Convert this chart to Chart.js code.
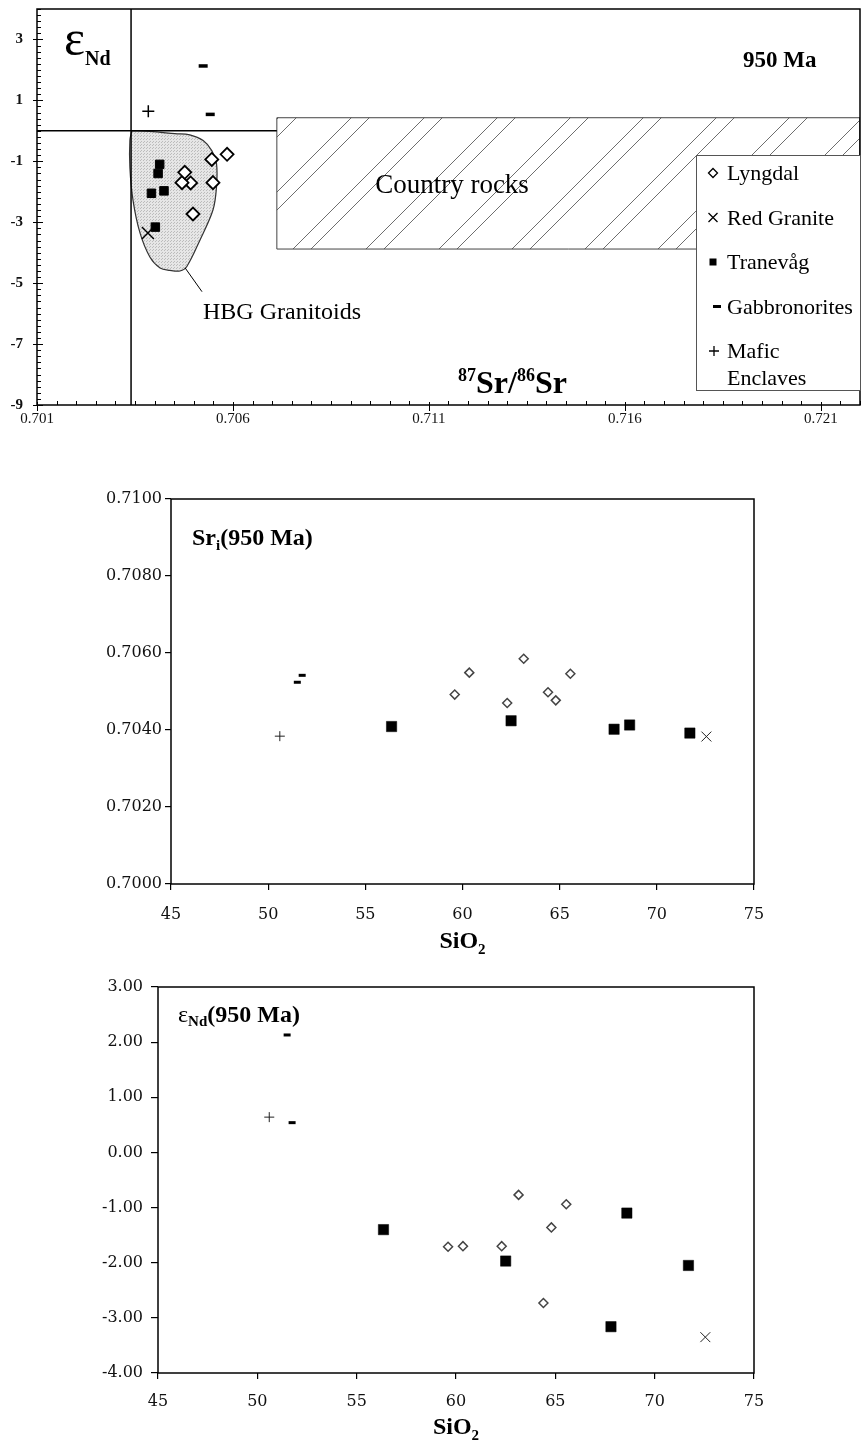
<!DOCTYPE html>
<html>
<head>
<meta charset="utf-8">
<title>HBG granitoids - Sr and Nd isotopes</title>
<script src="https://cdn.jsdelivr.net/npm/chart.js@4.4.1/dist/chart.umd.min.js"></script>
<style>
  html, body { margin: 0; padding: 0; background: #fff; }
  #page { position: relative; width: 861px; height: 1441px; overflow: hidden; }
  canvas { position: absolute; left: 0; }
</style>
</head>
<body>
<div id="page">
  <canvas id="srNdChart" width="861" height="440" style="top:0"></canvas>
  <canvas id="srSiChart" width="861" height="520" style="top:440px"></canvas>
  <canvas id="ndSiChart" width="861" height="481" style="top:960px"></canvas>
</div>
<script>
// samples (one entry per sample, same order in each array)
const lyngdalSiO2 = [59.6, 60.35, 62.3, 63.15, 64.4, 64.8, 65.55];
const lyngdalSr   = [0.70492, 0.70549, 0.70470, 0.70585, 0.70498, 0.70477, 0.70546];
const lyngdalNd   = [-1.71, -1.70, -1.70, -0.77, -2.73, -1.36, -0.94];

const tranevagSiO2 = [56.35, 62.5, 67.8, 68.6, 71.7];
const tranevagSr   = [0.70409, 0.70424, 0.70402, 0.70413, 0.70392];
const tranevagNd   = [-1.40, -1.97, -3.16, -1.10, -2.05];

const redGraniteSiO2 = [72.55];
const redGraniteSr   = [0.70383];
const redGraniteNd   = [-3.35];

const gabbroSiO2 = [51.5, 51.75];
const gabbroSr   = [0.70524, 0.70542];
const gabbroNd   = [2.13, 0.54];

const maficSiO2 = [50.6];
const maficSr   = [0.70384];
const maficNd   = [0.64];

// fields and reference lines of the isotope diagram ([Sr, eNd])
const hbgOutline = [
  [0.70342, 0.01], [0.70388, -0.02], [0.70452, -0.09], [0.70490, -0.13], [0.70524, -0.32],
  [0.70546, -0.65], [0.70558, -1.07], [0.70558, -1.85], [0.70549, -2.60], [0.70516, -3.58],
  [0.70482, -4.46], [0.70465, -4.60], [0.70439, -4.58], [0.70414, -4.50], [0.70388, -4.14],
  [0.70363, -3.36], [0.70345, -2.28], [0.70337, -1.20], [0.70337, -0.32], [0.70342, 0.01]
];
const hbgLeader = [[0.70478, -4.50], [0.70521, -5.28]];
const countryRocksBox = [[0.70712, 0.43], [0.722, 0.43], [0.722, -3.88], [0.70712, -3.88], [0.70712, 0.43]];
const ndZeroLine = [[0.701, 0], [0.70712, 0]];
const srBulkLine = [[0.7034, -9], [0.7034, 4]];

// axes
const srTopTicks = [0.701, 0.706, 0.711, 0.716, 0.721];
const ndTopTicks = [-9, -7, -5, -3, -1, 1, 3];
const siTicks = [45, 50, 55, 60, 65, 70, 75];
const srTicks = [0.7000, 0.7020, 0.7040, 0.7060, 0.7080, 0.7100];
const ndTicks = [-4, -3, -2, -1, 0, 1, 2, 3];
const SR_MINOR = 0.0005;
const ND_MINOR = 0.2;

const legendNames = ['Lyngdal', 'Red Granite', 'Tranevåg', 'Gabbronorites', 'Mafic|Enclaves'];

const SERIF = '"Liberation Serif", "Times New Roman", serif';
const WIDE = '"DejaVu Serif", serif';
Chart.defaults.font.family = SERIF;
Chart.defaults.color = '#000';

function pts(xs, ys) {
  return xs.map((x, i) => ({ x: x, y: ys[i] }));
}

function pairs(list) {
  return list.map(p => ({ x: p[0], y: p[1] }));
}

function fixedTicks(values) {
  return scale => { scale.ticks = values.map(v => ({ value: v })); };
}

// force the axis box size and drop the label overhang padding
function fitTo(prop, size) {
  return scale => {
    scale[prop] = size;
    scale.paddingTop = 0;
    scale.paddingBottom = 0;
    scale.paddingLeft = 0;
    scale.paddingRight = 0;
  };
}

function drawParts(ctx, parts, x, y, align) {
  ctx.save();
  ctx.fillStyle = '#000';
  ctx.textBaseline = 'alphabetic';
  ctx.textAlign = 'left';
  let total = 0;
  parts.forEach(p => { ctx.font = p[1]; total += ctx.measureText(p[0]).width; });
  let cx = align === 'center' ? x - total / 2 : (align === 'right' ? x - total : x);
  parts.forEach(p => {
    ctx.font = p[1];
    ctx.fillText(p[0], cx, y + (p[2] || 0));
    cx += ctx.measureText(p[0]).width;
  });
  ctx.restore();
}

function drawMarker(ctx, kind, x, y, r) {
  ctx.save();
  ctx.strokeStyle = '#000';
  ctx.fillStyle = '#000';
  ctx.lineWidth = 1.3;
  ctx.beginPath();
  if (kind === 'diamond') {
    ctx.moveTo(x - r, y); ctx.lineTo(x, y - r); ctx.lineTo(x + r, y); ctx.lineTo(x, y + r);
    ctx.closePath();
    ctx.fillStyle = '#fff';
    ctx.fill();
    ctx.stroke();
  } else if (kind === 'square') {
    ctx.fillRect(x - r, y - r, 2 * r, 2 * r);
  } else if (kind === 'dash') {
    ctx.fillRect(x - r, y - 1.5, 2 * r, 3);
  } else if (kind === 'x') {
    ctx.moveTo(x - r, y - r); ctx.lineTo(x + r, y + r);
    ctx.moveTo(x + r, y - r); ctx.lineTo(x - r, y + r);
    ctx.stroke();
  } else {
    ctx.moveTo(x - r, y); ctx.lineTo(x + r, y);
    ctx.moveTo(x, y - r); ctx.lineTo(x, y + r);
    ctx.stroke();
  }
  ctx.restore();
}

function hatchPattern(ctx) {
  const c = document.createElement('canvas');
  c.width = 73;
  c.height = 73;
  const g = c.getContext('2d');
  g.fillStyle = '#fff';
  g.fillRect(0, 0, 73, 73);
  g.strokeStyle = '#6e6e6e';
  g.lineWidth = 1;
  [31, 49].forEach(c0 => {
    for (let k = -1; k <= 2; k++) {
      const s = c0 + 73 * k;
      g.beginPath();
      g.moveTo(s, 0);
      g.lineTo(s - 73, 73);
      g.stroke();
    }
  });
  return ctx.createPattern(c, 'repeat');
}

function stipplePattern(ctx) {
  const c = document.createElement('canvas');
  c.width = 3;
  c.height = 3;
  const g = c.getContext('2d');
  g.fillStyle = '#e6e6e6';
  g.fillRect(0, 0, 3, 3);
  g.fillStyle = '#bcbcbc';
  g.fillRect(0, 0, 1, 1);
  g.fillRect(2, 1, 1, 1);
  return ctx.createPattern(c, 'repeat');
}

const framePlugin = {
  id: 'frame',
  afterDatasetsDraw(chart) {
    const { ctx, chartArea: a } = chart;
    ctx.save();
    ctx.strokeStyle = '#000';
    ctx.lineWidth = 1.5;
    ctx.strokeRect(a.left, a.top, a.right - a.left, a.bottom - a.top);
    ctx.restore();
  }
};

// ---------- top: eNd vs 87Sr/86Sr ----------
const topCtx = document.getElementById('srNdChart').getContext('2d');

const topMarks = {
  lyngdal:  { pointStyle: 'rectRot', pointRadius: 6.5, pointBackgroundColor: '#fff', pointBorderColor: '#000', pointBorderWidth: 1.8 },
  red:      { pointStyle: 'crossRot', pointRadius: 8.5, pointBorderColor: '#000', pointBorderWidth: 1.4 },
  tranevag: { pointStyle: 'rect', pointRadius: 6, pointBackgroundColor: '#000', pointBorderColor: '#000', pointBorderWidth: 1 },
  gabbro:   { pointStyle: 'line', pointRadius: 4.5, pointBorderColor: '#000', pointBorderWidth: 3.5 },
  mafic:    { pointStyle: 'cross', pointRadius: 6, pointBorderColor: '#000', pointBorderWidth: 1.5 }
};

function lineSet(data, width, order) {
  return { data: pairs(data), showLine: true, pointRadius: 0, borderColor: '#000', borderWidth: width, fill: false, tension: 0, order: order };
}

const topTicksPlugin = {
  id: 'topTicks',
  afterDatasetsDraw(chart) {
    const { ctx, chartArea: a, scales: { x, y } } = chart;
    ctx.save();
    ctx.strokeStyle = '#000';
    ctx.lineWidth = 1;
    ctx.beginPath();
    const nY = Math.round((y.max - y.min) / ND_MINOR);
    for (let i = 0; i <= nY; i++) {
      const v = y.min + i * ND_MINOR;
      const py = Math.round(y.getPixelForValue(v)) + 0.5;
      const major = ndTopTicks.some(t => Math.abs(t - v) < 1e-6);
      ctx.moveTo(a.left - (major ? 4 : 0), py);
      ctx.lineTo(a.left + (major ? 6 : 4), py);
    }
    const nX = Math.round((x.max - x.min) / SR_MINOR);
    for (let i = 0; i <= nX; i++) {
      const v = x.min + i * SR_MINOR;
      const px = Math.round(x.getPixelForValue(v)) + 0.5;
      const major = srTopTicks.some(t => Math.abs(t - v) < 1e-7);
      ctx.moveTo(px, a.bottom + (major ? 6 : 0));
      ctx.lineTo(px, a.bottom - (major ? 3 : 4));
    }
    ctx.stroke();
    ctx.restore();
  }
};

const topNotesPlugin = {
  id: 'topNotes',
  afterDatasetsDraw(chart) {
    const ctx = chart.ctx;
    drawParts(ctx, [['ε', '50px ' + SERIF, 0], ['Nd', 'bold 20px ' + SERIF, 10]], 64, 55, 'left');
    drawParts(ctx, [['950 Ma', 'bold 23px ' + SERIF, 0]], 743, 67, 'left');
    drawParts(ctx, [['Country rocks', '27px ' + SERIF, 0]], 452, 193, 'center');
    drawParts(ctx, [['HBG Granitoids', '24px ' + SERIF, 0]], 203, 319, 'left');
    drawParts(ctx, [
      ['87', 'bold 18px ' + SERIF, -12], ['Sr/', 'bold 32px ' + SERIF, 0],
      ['86', 'bold 18px ' + SERIF, -12], ['Sr', 'bold 32px ' + SERIF, 0]
    ], 458, 393, 'left');

    // legend box
    ctx.save();
    ctx.fillStyle = '#fff';
    ctx.fillRect(696, 155, 164, 235);
    ctx.strokeStyle = '#555';
    ctx.lineWidth = 1;
    ctx.strokeRect(696.5, 155.5, 164, 235);
    ctx.restore();
    const kinds = ['diamond', 'x', 'square', 'dash', 'plus'];
    const sizes = [4.5, 4.5, 3.5, 4, 5];
    const baselines = [180, 224.5, 269, 313.5, 358];
    const markerX = [713, 713, 713, 717, 714];
    legendNames.forEach((name, i) => {
      drawMarker(ctx, kinds[i], markerX[i], baselines[i] - 7, sizes[i]);
      name.split('|').forEach((line, j) => {
        drawParts(ctx, [[line, '22px ' + SERIF, 0]], 727, baselines[i] + j * 26.5, 'left');
      });
    });
  }
};

new Chart(topCtx, {
  type: 'scatter',
  data: {
    datasets: [
      Object.assign({ label: 'Lyngdal', data: pts(lyngdalSr, lyngdalNd), order: 0 }, topMarks.lyngdal),
      Object.assign({ label: 'Red Granite', data: pts(redGraniteSr, redGraniteNd), order: 0 }, topMarks.red),
      Object.assign({ label: 'Tranevåg', data: pts(tranevagSr, tranevagNd), order: 0 }, topMarks.tranevag),
      Object.assign({ label: 'Gabbronorites', data: pts(gabbroSr, gabbroNd), order: 0 }, topMarks.gabbro),
      Object.assign({ label: 'Mafic Enclaves', data: pts(maficSr, maficNd), order: 0 }, topMarks.mafic),
      lineSet(srBulkLine, 1.5, 2),
      lineSet(ndZeroLine, 1.5, 2),
      lineSet(hbgLeader, 1, 2),
      {
        label: 'HBG Granitoids', data: pairs(hbgOutline), showLine: true, pointRadius: 0,
        borderColor: '#333', borderWidth: 1.2, backgroundColor: stipplePattern(topCtx),
        fill: 'shape', tension: 0.35, order: 3
      },
      {
        label: 'Country rocks', data: pairs(countryRocksBox), showLine: true, pointRadius: 0,
        borderColor: '#444', borderWidth: 1, backgroundColor: hatchPattern(topCtx),
        fill: 'shape', tension: 0, order: 4
      }
    ]
  },
  options: {
    responsive: false,
    animation: false,
    events: [],
    layout: { autoPadding: false, padding: { top: 9, right: 1, left: 0, bottom: 0 } },
    plugins: { legend: { display: false }, tooltip: { enabled: false } },
    scales: {
      x: {
        type: 'linear', min: 0.701, max: 0.722,
        afterBuildTicks: fixedTicks(srTopTicks),
        afterFit: fitTo('height', 35),
        grid: { display: false, drawTicks: false },
        border: { display: false },
        ticks: { callback: v => v.toFixed(3), font: { family: SERIF, size: 15 }, color: '#111', padding: 5, autoSkip: false, maxRotation: 0 }
      },
      y: {
        type: 'linear', min: -9, max: 4,
        afterBuildTicks: fixedTicks(ndTopTicks),
        afterFit: fitTo('width', 37),
        grid: { display: false, drawTicks: false },
        border: { display: false },
        ticks: { callback: v => String(v), font: { family: SERIF, size: 15, weight: 'bold' }, color: '#111', padding: 14 }
      }
    }
  },
  plugins: [framePlugin, topTicksPlugin, topNotesPlugin]
});

// ---------- lower panels: vs SiO2 ----------
const smallMarks = {
  lyngdal:  { pointStyle: 'rectRot', pointRadius: 4.5, pointBackgroundColor: '#fff', pointBorderColor: '#444', pointBorderWidth: 1.5 },
  red:      { pointStyle: 'crossRot', pointRadius: 7, pointBorderColor: '#222', pointBorderWidth: 1 },
  tranevag: { pointStyle: 'rect', pointRadius: 7.3, pointBackgroundColor: '#000', pointBorderColor: '#000', pointBorderWidth: 0.5 },
  gabbro:   { pointStyle: 'line', pointRadius: 3.5, pointBorderColor: '#000', pointBorderWidth: 3 },
  mafic:    { pointStyle: 'cross', pointRadius: 5, pointBorderColor: '#222', pointBorderWidth: 1 }
};

function siDatasets(ys) {
  return [
    Object.assign({ label: 'Lyngdal', data: pts(lyngdalSiO2, ys.lyngdal) }, smallMarks.lyngdal),
    Object.assign({ label: 'Red Granite', data: pts(redGraniteSiO2, ys.red) }, smallMarks.red),
    Object.assign({ label: 'Tranevåg', data: pts(tranevagSiO2, ys.tranevag) }, smallMarks.tranevag),
    Object.assign({ label: 'Gabbronorites', data: pts(gabbroSiO2, ys.gabbro) }, smallMarks.gabbro),
    Object.assign({ label: 'Mafic Enclaves', data: pts(maficSiO2, ys.mafic) }, smallMarks.mafic)
  ];
}

function notesPlugin(id, titleParts, titleDx, titleDy, siDy) {
  return {
    id: id,
    afterDatasetsDraw(chart) {
      const { ctx, chartArea: a } = chart;
      drawParts(ctx, titleParts, a.left + titleDx, a.top + titleDy, 'left');
      drawParts(ctx, [['SiO', 'bold 24px ' + SERIF, 0], ['2', 'bold 15px ' + SERIF, 6]], (a.left + a.right) / 2, a.bottom + siDy, 'center');
    }
  };
}

function siChart(canvasId, cfg) {
  return new Chart(document.getElementById(canvasId), {
    type: 'scatter',
    data: { datasets: siDatasets(cfg.ys) },
    options: {
      responsive: false,
      animation: false,
      events: [],
      layout: { autoPadding: false, padding: cfg.padding },
      plugins: { legend: { display: false }, tooltip: { enabled: false } },
      scales: {
        x: {
          type: 'linear', min: 45, max: 75,
          afterBuildTicks: fixedTicks(siTicks),
          afterFit: fitTo('height', cfg.xHeight),
          grid: { display: true, drawOnChartArea: false, drawTicks: true, tickLength: 6, color: '#000', lineWidth: 1.2 },
          border: { display: false },
          ticks: { callback: v => String(v), font: { family: WIDE, size: 16 }, color: '#111', padding: cfg.xPad, autoSkip: false, maxRotation: 0 }
        },
        y: {
          type: 'linear', min: cfg.yMin, max: cfg.yMax,
          afterBuildTicks: fixedTicks(cfg.yTicks),
          afterFit: fitTo('width', cfg.yWidth),
          grid: { display: true, drawOnChartArea: false, drawTicks: true, tickLength: cfg.yTickLen, color: '#000', lineWidth: 1.2 },
          border: { display: false },
          ticks: { callback: cfg.yFormat, font: { family: WIDE, size: 16 }, color: '#111', padding: cfg.yPad }
        }
      }
    },
    plugins: [framePlugin, cfg.notes]
  });
}

siChart('srSiChart', {
  ys: { lyngdal: lyngdalSr, red: redGraniteSr, tranevag: tranevagSr, gabbro: gabbroSr, mafic: maficSr },
  padding: { top: 59, right: 107, left: 0, bottom: 0 },
  xHeight: 76, xPad: 15,
  yMin: 0.700, yMax: 0.710, yTicks: srTicks, yWidth: 171, yTickLen: 6, yPad: 3,
  yFormat: v => v.toFixed(4),
  notes: notesPlugin('srNotes', [
    ['Sr', 'bold 24px ' + SERIF, 0], ['i', 'bold 15px ' + SERIF, 5], ['(950 Ma)', 'bold 24px ' + SERIF, 0]
  ], 21, 46, 64)
});

siChart('ndSiChart', {
  ys: { lyngdal: lyngdalNd, red: redGraniteNd, tranevag: tranevagNd, gabbro: gabbroNd, mafic: maficNd },
  padding: { top: 27, right: 107, left: 0, bottom: 0 },
  xHeight: 68, xPad: 13,
  yMin: -4, yMax: 3, yTicks: ndTicks, yWidth: 158, yTickLen: 7, yPad: 8,
  yFormat: v => v.toFixed(2),
  notes: notesPlugin('ndNotes', [
    ['ε', '24px ' + SERIF, 0], ['Nd', 'bold 15px ' + SERIF, 4], ['(950 Ma)', 'bold 24px ' + SERIF, 0]
  ], 20, 35, 61)
});
</script>
</body>
</html>
